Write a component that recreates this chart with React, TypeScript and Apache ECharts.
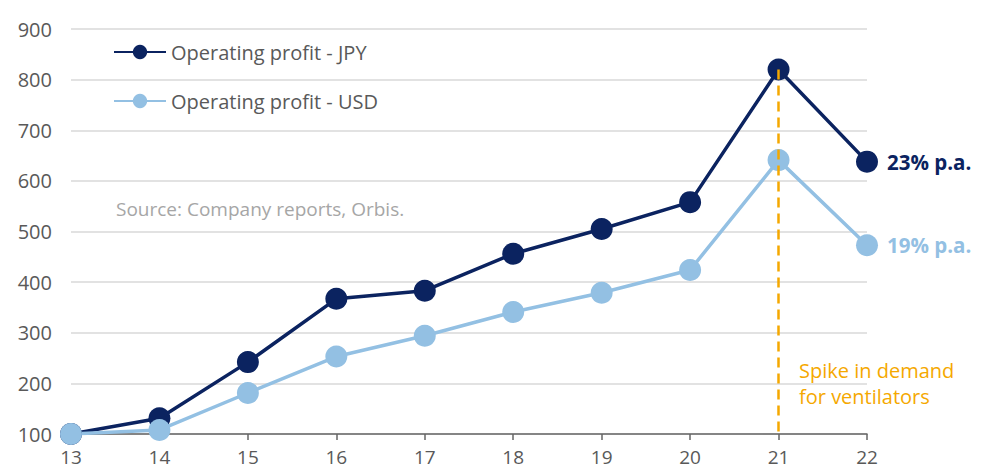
import React, { useEffect, useRef } from "react";
import * as echarts from "echarts";

const years = ["13", "14", "15", "16", "17", "18", "19", "20", "21", "22"];
const jpy = [100, 131, 242, 367, 383, 456, 505, 558, 820, 638];
const usd = [100, 108, 181, 253, 294, 341, 379, 424, 641, 473];
const yTicks = { min: 100, max: 900, interval: 100 };
const endLabels = ["23% p.a.", "19% p.a."];
const spikeYear = "21";
const spikeText = "Spike in demand\nfor ventilators";
const sourceText = "Source: Company reports, Orbis.";

const NAVY = "#0b2360";
const LIGHT = "#93c0e3";
const ORANGE = "#f5a800";
const FONT = "Open Sans";

function withEndLabel(values: number[], text: string, color: string) {
  return values.map((v, i) =>
    i === values.length - 1
      ? {
          value: v,
          label: {
            show: true,
            position: "right",
            distance: 9,
            formatter: text,
            color,
            fontWeight: "bold",
            fontSize: 20.5,
            fontFamily: FONT,
          },
        }
      : v
  );
}

export default function App() {
  const ref = useRef<HTMLDivElement>(null);
  useEffect(() => {
    const chart = echarts.init(ref.current!, null, { renderer: "svg" });
    chart.setOption({
      animation: false,
      grid: { left: 71, right: 120, top: 29, bottom: 36 },
      legend: {
        orient: "vertical",
        left: 113,
        top: 42,
        padding: 0,
        itemWidth: 52,
        itemHeight: 18,
        itemGap: 29,
        textStyle: { fontSize: 20, color: "#595959", fontFamily: FONT },
        data: ["Operating profit - JPY", "Operating profit - USD"],
      },
      xAxis: {
        type: "category",
        data: years,
        boundaryGap: false,
        axisLine: { lineStyle: { color: "#666", width: 1.5 } },
        axisTick: { show: true, length: 6, lineStyle: { color: "#666", width: 1.5 } },
        axisLabel: { fontSize: 19, color: "#595959", margin: 13, fontFamily: FONT },
        splitLine: { show: false },
      },
      yAxis: {
        type: "value",
        min: yTicks.min,
        max: yTicks.max,
        interval: yTicks.interval,
        axisLine: { show: false },
        axisTick: { show: false },
        axisLabel: { fontSize: 20, color: "#595959", margin: 19, fontFamily: FONT },
        splitLine: { lineStyle: { color: "#d9d9d9", width: 1.5 } },
      },
      series: [
        {
          name: "Operating profit - JPY",
          type: "line",
          data: withEndLabel(jpy, endLabels[0], NAVY),
          symbol: "circle",
          symbolSize: 22,
          lineStyle: { color: NAVY, width: 3.5 },
          itemStyle: { color: NAVY },
        },
        {
          name: "Operating profit - USD",
          type: "line",
          data: withEndLabel(usd, endLabels[1], LIGHT),
          symbol: "circle",
          symbolSize: 22,
          lineStyle: { color: LIGHT, width: 3.5 },
          itemStyle: { color: LIGHT },
          markLine: {
            silent: true,
            symbol: ["none", "none"],
            label: { show: false },
            lineStyle: { color: ORANGE, type: [10, 6], width: 2.5 },
            data: [
              [
                { coord: [spikeYear, jpy[years.indexOf(spikeYear)]] },
                { coord: [spikeYear, yTicks.min] },
              ],
            ],
          },
        },
      ],
      graphic: [
        {
          type: "text",
          left: 116,
          top: 199,
          style: { text: sourceText, fontSize: 19, fill: "#a6a6a6", fontFamily: FONT },
        },
        {
          type: "text",
          left: 799,
          top: 357,
          style: {
            text: spikeText,
            fontSize: 20,
            lineHeight: 26,
            fill: ORANGE,
            fontFamily: FONT,
          },
        },
      ],
    });
    return () => chart.dispose();
  }, []);
  return (
    <div
      ref={ref}
      style={{ position: "absolute", left: 0, top: 0, width: 987, height: 470 }}
    />
  );
}
